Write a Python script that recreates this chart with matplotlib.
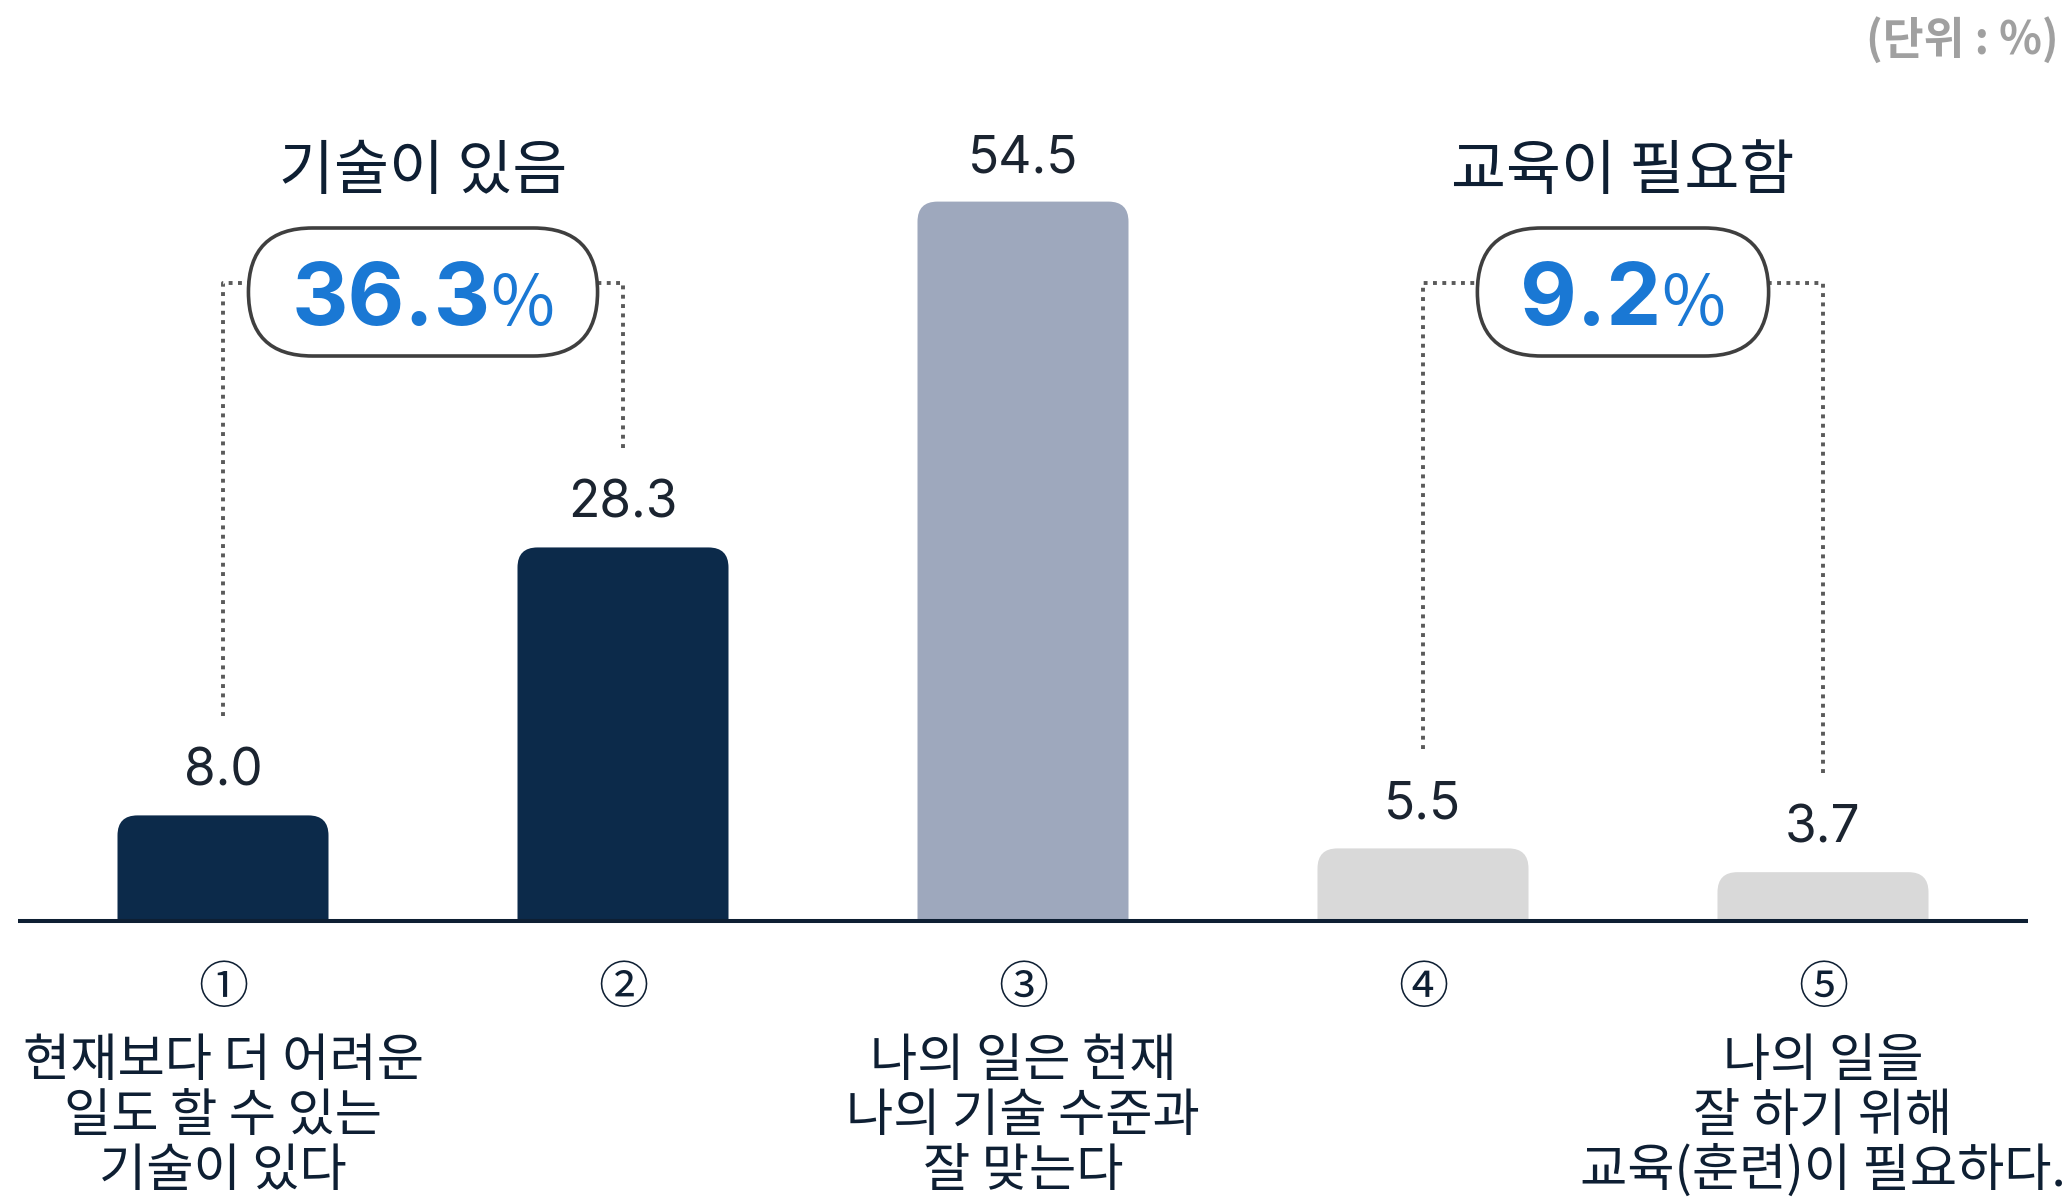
import matplotlib
matplotlib.use('Agg')
import matplotlib.pyplot as plt
from matplotlib.patches import FancyBboxPatch, Rectangle
from matplotlib.transforms import offset_copy

# ---------------- data ----------------
circled = ['①', '②', '③', '④', '⑤']
categories = ['현재보다 더 어려운\n일도 할 수 있는\n기술이 있다',
              '',
              '나의 일은 현재\n나의 기술 수준과\n잘 맞는다',
              '',
              '나의 일을\n잘 하기 위해\n교육(훈련)이 필요하다.']
values = [8.0, 28.3, 54.5, 5.5, 3.7]
group_titles = ['기술이 있음', '교육이 필요함']
group_values = ['36.3', '9.2']
group_members = [(0, 1), (3, 4)]
unit_label = '(단위 : %)'
bar_colors = ['#0c2a4a', '#0c2a4a', '#9ea8bd', '#d9d9d9', '#d9d9d9']

# ---------------- layout ----------------
W, H, DPI = 2072, 1204, 100
PX_X = 400.0      # pixels per category step
PX_Y = 13.2       # pixels per percent
X0 = 223.0        # pixel x of first category
BASE = 921.0      # pixel row of baseline

KR = ['Noto Sans CJK KR', 'DejaVu Sans']
NUM = ['Inter', 'Noto Sans CJK KR', 'DejaVu Sans']
DARK = '#0e1f33'

fig = plt.figure(figsize=(W / DPI, H / DPI), dpi=DPI)
ax = fig.add_axes([0, 0, 1, 1])
ax.set_xlim(-X0 / PX_X, (W - X0) / PX_X)
ax.set_ylim(-(H - BASE) / PX_Y, BASE / PX_Y)
ax.axis('off')

def py(row):
    return (BASE - row) / PX_Y

aspect = PX_X / PX_Y
bw = 211 / PX_X
r = 20 / PX_X
clip = Rectangle((-10, 0), 100, 500, transform=ax.transData)

# bars with rounded top corners
for i, v in enumerate(values):
    p = FancyBboxPatch((i - bw / 2, -5), bw, v + 5,
                       boxstyle=f'round,pad=0,rounding_size={r}',
                       mutation_aspect=aspect, fc=bar_colors[i], ec='none', zorder=2)
    ax.add_patch(p)
    p.set_clip_path(clip)
    ax.text(i, v + 43 / PX_Y, f'{v:.1f}', ha='center', va='center',
            fontsize=37, family=NUM, color='#1b2430', zorder=5)

# baseline
ax.axhline(0, xmin=18 / W, xmax=2028 / W, color=DARK, lw=2.9, zorder=3,
           solid_capstyle='butt')

# x labels
line_gap = 55 / PX_Y
for i, (c, lab) in enumerate(zip(circled, categories)):
    ax.text(i, py(989), c, ha='center', va='center', fontsize=36, family=KR, color=DARK)
    if lab:
        for k, line in enumerate(lab.split('\n')):
            ax.text(i, py(1061) - k * line_gap, line, ha='center', va='center',
                    fontsize=37, family=KR, weight='medium', color=DARK)

# group annotations
renderer = fig.canvas.get_renderer()
pill_h = 128 / PX_Y
pill_y = py(292)
line_y = py(283)
for (a, b), title, gv in zip(group_members, group_titles, group_values):
    xc = (a + b) / 2
    ax.text(xc, py(172), title, ha='center', va='center', fontsize=43,
            family=KR, weight='medium', color=DARK, zorder=5)
    t1 = ax.text(xc, py(325), gv, ha='left', va='baseline', fontsize=63,
                 family=NUM, weight='bold', color='#1a78d4', zorder=6)
    t2 = ax.text(xc, py(325), '%', ha='left', va='baseline', fontsize=50,
                 family=KR, color='#1a78d4', zorder=6)
    w1 = t1.get_window_extent(renderer).width
    w2 = t2.get_window_extent(renderer).width
    gap = 0
    total = w1 + gap + w2
    t1.set_transform(offset_copy(ax.transData, fig=fig, x=-total / 2, y=0, units='dots'))
    t2.set_transform(offset_copy(ax.transData, fig=fig, x=-total / 2 + w1 + gap, y=0, units='dots'))
    pw = (total + 86) / PX_X
    pill = FancyBboxPatch((xc - pw / 2, pill_y - pill_h / 2), pw, pill_h,
                          boxstyle=f'round,pad=0,rounding_size={64 / PX_X}',
                          mutation_aspect=aspect, fc='white', ec='#3f3f3f',
                          lw=2.6, zorder=4)
    ax.add_patch(pill)
    # dotted connectors
    for idx, edge in ((a, xc - pw / 2), (b, xc + pw / 2)):
        ax.plot([idx, idx, edge], [values[idx] + 7.5, line_y, line_y],
                color='#5a5a5a', lw=2.8, linestyle=(0, (1, 1.4)),
                dash_capstyle='butt', zorder=1)

fig.text(2059 / W, 1 - 40 / H, unit_label, ha='right', va='center', fontsize=32,
         family=KR, weight='bold', color='#a0a0a0')

fig.savefig('out.png', dpi=DPI, facecolor='white')
